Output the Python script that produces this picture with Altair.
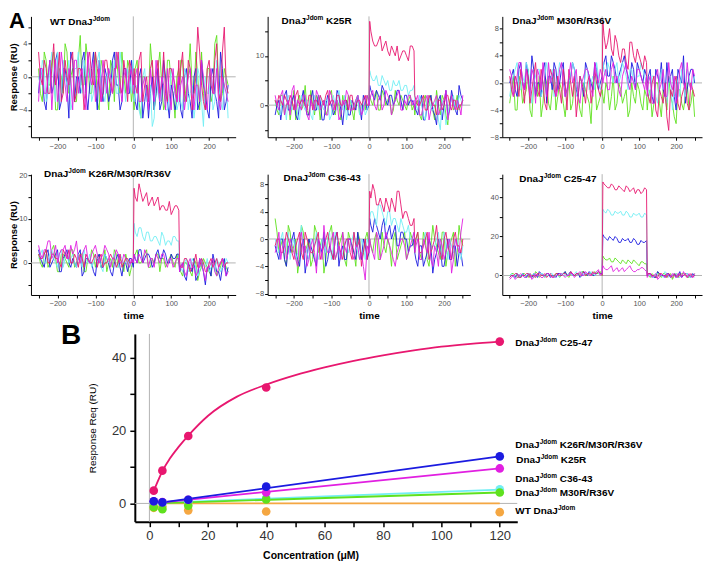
import altair as alt
import pandas as pd

# ---------------- time grids of the sensorgrams (s) ----------------
TIME = [-250, -240, -230, -220, -210, -200, -190, -180, -170, -160, -150, -140, -130,
        -120, -110, -100, -90, -80, -70, -60, -50, -40, -30, -20, -10, 0,
        2, 10, 20, 30, 40, 50, 60, 70, 80, 90, 100, 110, 120,
        122, 130, 140, 150, 160, 170, 180, 190, 200, 210, 220, 230, 240, 250]
TIME_MID = [-245, -235, -225, -215, -205, -195, -185, -175, -165, -155, -145, -135, -125,
            -115, -105, -95, -85, -75, -65, -55, -45, -35, -25, -15, -5,
            5, 15, 25, 35, 45, 55, 65, 75, 85, 95, 105, 115,
            125, 135, 145, 155, 165, 175, 185, 195, 205, 215, 225, 235, 245]

# ---------------- panel 1: WT DnaJ Jdom ----------------
wt_green = [1, -3, 2, -1, 3, -4, 0, 4, -2, 1, -3, 5, -1, 2, -2, 3, -4, 1, -1, 2, -3, 0, 3, -2, 1, -1] + \
           [-4, 2, -5, 0, -3, 1, -2, 3, -4, 2, -1, -5, 1] + [-3, 2, -1, 4, -2, 0, 3, -4, 1, -2, 5, -3, 1, -1]
wt_green_m = [-2, 3, -1, 2, -4, 1, -2, 3, 0, -3, 2, -1, 4, -2, 1, -3, 2, 0, -4, 1, 3, -2, 0, 2, -3] + \
             [1, -3, 0, -2, 4, -4, 1, -1, -3, 2, -2, 0] + [2, -3, 0, -1, 3, -4, -2, 1, -3, 4, -1, -2, 0]
wt_blue = [-2, 0, -4, 2, -1, 3, -3, 1, -5, 2, 0, -2, 3, -4, 1, -1, 2, -3, 0, -2, 3, -1, -3, 1, -2, 0] + \
          [-1, -4, 1, -3, -5, 0, -2, -4, 2, -3, -1, -4, 0] + [-2, -5, 1, -3, 0, -4, 2, -2, -5, 1, -3, 3, -4, -1]
wt_blue_m = [1, -3, 0, -2, 2, -4, 1, -1, 3, -3, 0, 2, -2, -1, 3, -4, 0, 1, -3, 2, -1, -4, 1, -2, 2] + \
            [-3, 0, -5, -1, -2, -4, 1, -3, 0, -5, -2, -3] + [-4, 0, -2, -5, 1, -3, -1, -4, 0, -2, -5, 1, -3]
wt_cyan = [0, 2, -3, 1, -1, 3, -2, 0, 2, -3, 1, -1, 2, 0, -3, 1, 3, -2, 0, -1, 2, -2, 1, -3, 0, 2] + \
          [-3, -1, -5, 1, -2, -6, 0, -3, -1, -4, 1, -2, -3] + [-1, -4, 0, -2, -5, 1, -3, 0, -2, -4, 2, -3, -1, -5]
wt_cyan_m = [-1, 1, -2, 3, -3, 0, 2, -1, -4, 1, 3, -2, 0, 1, -2, 2, -1, -3, 1, 0, -2, 3, -1, 1, -2] + \
            [-2, -4, 0, -3, -1, -5, -2, 0, -4, -2, -1, -4] + [-3, 1, -4, -1, -3, 0, -6, -2, 1, -3, -1, -4, 0]
wt_crimson = [3, -1, 1, -2, 4, 0, -3, 2, -1, 3, -2, 1, -4, 2, 0, 3, -1, -2, 2, -1, 1, 3, -2, 0, 2, -1] + \
             [1, -2, 3, -1, -3, 2, 0, -2, 3, -3, 1, -1, 2] + [-1, 3, -3, 1, -2, 6, -1, -4, 2, -2, 4, -3, 6, -2]
wt_crimson_m = [0, 2, -2, 1, -1, 3, -2, 0, 2, -3, 1, 0, -2, 3, -1, 1, -3, 2, 0, -2, 1, -1, 2, -3, 1] + \
               [-1, 2, -3, 0, 1, -2, 2, -1, -2, 1, 0, -3] + [1, -2, 2, -4, 0, 3, -3, 1, -1, 2, -2, 3, -1]
wt_magenta = [-3, 1, -2, 2, 0, -3, 3, -1, 1, -4, 2, 0, -2, 3, -1, -3, 1, 2, -2, 0, -1, 2, -3, 1, 0, -2] + \
             [-2, 1, -3, 0, -4, -1, 2, -3, -1, 1, -4, -2, 0] + [-3, 0, -2, 1, -4, -1, 2, -3, 0, -2, 1, -4, -1, -3]
wt_magenta_m = [1, -2, 0, -4, 2, -1, 1, -3, 0, 2, -2, 1, -4, 0, 2, -1, -3, 0, 1, -2, 3, -1, 0, -2, 1] + \
               [0, -3, -1, -2, 1, -3, -1, 0, -4, -2, 1, -3] + [-1, -4, 0, -2, -1, -3, 0, -4, 1, -2, -3, 0, -2]

# ---------------- panel 2: K25R ----------------
k25_green = [1, -2, 2, 0, -3, 3, 1, -1, 4, -2, 0, 2, -3, 1, -1, 3, -2, 0, 2, -1, 1, -3, 2, 0, -1, 1] + \
            [2, 0, 3, -1, 2, 1, -2, 3, 0, 1, -1, 2, 0] + [-2, 1, -3, 2, 0, -1, 3, -2, 1, -4, 2, 0, -1, 1]
k25_green_m = [-1, 2, -2, 1, 0, -3, 2, 0, -1, 3, -2, 1, 0, -2, 2, -1, 1, -3, 0, 2, -1, 1, -2, 0, 2] + \
              [1, 2, -1, 3, 0, 2, -1, 1, 2, 0, 1, -1] + [0, -2, 1, -1, 2, -3, 0, 2, -2, 1, -1, 2, 0]
k25_blue = [-2, 1, 0, 3, -1, 2, -3, 1, 0, -2, 3, -1, 1, -3, 2, 0, -1, 2, -4, 1, -2, 0, 2, -3, 1, 0] + \
           [4, 2, 3, 1, 3, 0, 2, 1, 3, -1, 2, 1, 0] + [0, -2, 2, -3, 1, -1, -4, 2, 0, -2, 3, -1, 4, 1]
k25_blue_m = [0, -3, 2, -1, 1, -2, 0, 3, -2, 1, -1, 2, -3, 0, 1, -2, 3, -1, 0, -2, 1, -1, 0, 2, -1] + \
             [3, 1, 2, 4, 1, 2, 0, 3, 1, 2, 0, 1] + [-1, 1, -3, 0, 2, -2, 1, -3, 3, -1, 1, -2, 2]
k25_cyan = [0, -1, 2, -3, 1, 0, -2, 2, -1, 1, -3, 0, 2, -1, 1, -2, 0, 3, -1, -3, 1, -1, 2, 0, -2, 1] + \
           [7, 5, 6, 4, 5, 5, 3, 4, 5, 3, 4, 3, 4] + [1, -1, 0, -3, 2, -1, 1, -5, 0, -2, 1, -1, 2, 0]
k25_cyan_m = [1, -2, 0, 2, -1, 1, -3, 0, 1, -2, 2, -1, 0, 1, -3, 2, -1, 0, 2, -1, 0, 1, -2, 1, -1] + \
             [6, 5, 4, 6, 4, 3, 5, 4, 3, 4, 2, 3] + [0, 2, -2, 1, -1, 0, -3, 1, -4, 0, 2, -1, 1]
k25_crimson = [1, 2, 0, 1, 2, -1, 3, 1, 0, 2, -1, 1, 2, 0, 3, 1, -1, 2, 0, 1, 2, -1, 1, 0, 2, 0] + \
              [17, 13, 12, 14, 12, 11, 12, 10, 9, 11, 10, 12, 11] + [2, 0, 1, -1, 2, 0, -2, 1, 0, 2, -1, 1, 0, 1]
k25_crimson_m = [0, 1, 2, 0, 1, 2, 0, 1, -1, 2, 1, 0, 1, 2, 0, 1, 2, 0, 1, -1, 2, 0, 1, 1, 0] + \
                [15, 12, 13, 11, 13, 10, 11, 12, 10, 11, 9, 12] + [1, 0, 2, -1, 1, 0, 1, -1, 2, 0, 1, -1, 0]
k25_magenta = [2, -1, 3, 0, -2, 4, 1, -1, 2, -3, 0, 3, -1, 1, -2, 2, 0, -3, 1, 3, -1, 0, 2, -2, 1, 0] + \
              [1, 3, -1, 2, 0, 2, -2, 1, 3, -1, 0, 2, 1] + [-1, 2, -2, 1, -3, 0, 2, -1, 1, -3, 2, -1, 0, 2]
k25_magenta_m = [0, 2, -2, 1, 3, -1, 0, 2, -2, 1, -1, 2, 0, -2, 3, -1, 1, -2, 0, 2, -1, 1, 0, -1, 2] + \
                [2, 0, 1, -1, 3, 1, 0, 2, -1, 1, 2, 0] + [1, -2, 0, 2, -1, 1, -2, 0, 3, -1, 0, 1, -2]

# ---------------- panel 3: M30R/R36V ----------------
m30_green = [-3, 1, -4, 0, -2, 2, -5, -1, 1, -3, 0, -4, 2, -2, -1, -5, 1, -3, -1, -4, 0, -2, -6, 1, -3, -1] + \
            [-2, 0, -4, 1, -3, -1, -2, -5, 0, -3, -1, -4, -2] + [-4, -1, -3, 0, -5, -2, 1, -3, -6, -1, -4, 0, -3, -5]
m30_green_m = [-1, -4, 1, -3, -1, -4, 0, -2, -5, 1, -3, -1, -4, 0, -3, -2, -4, 0, -2, -5, -1, -3, 0, -4, -2] + \
              [-3, -1, -2, -4, 0, -3, -1, -4, -2, 0, -3, -1] + [-2, -5, 0, -3, -1, -4, -2, -5, -1, -3, -2, -4, -1]
m30_blue = [0, 2, -2, 3, -1, 1, 4, -2, 0, 2, -3, 1, 3, -1, 2, -2, 0, 3, -1, 1, -2, 2, 0, 3, -1, 1] + \
           [2, 4, 1, 3, 0, 2, 4, 1, 3, -1, 2, 0, 1] + [-1, 2, -3, 1, 3, -2, 0, 2, -4, 1, 4, -1, 2, 0]
m30_blue_m = [1, -1, 2, 0, 3, -1, 2, 0, -2, 3, 1, -1, 2, 0, 3, -1, 1, 2, -2, 0, 3, 1, -1, 2, 0] + \
             [3, 1, 4, 2, 1, 3, 2, 0, 2, 3, 1, 2] + [1, -2, 2, 0, -1, 3, 1, -2, 2, 0, -3, 1, 2]
m30_cyan = [-2, 1, 3, -1, 0, 2, -3, 1, 2, -1, 3, 0, -2, 1, 2, -1, 0, 3, -2, 1, -1, 2, 0, -1, 1, 0] + \
           [3, 1, 2, 0, 3, 1, 2, -1, 2, 0, 1, 2, 0] + [0, -2, 1, -3, 2, -1, 0, -4, 1, -2, 0, 2, -1, 1]
m30_cyan_m = [0, 2, -1, 1, 3, -1, 0, 2, -2, 1, 0, 2, -1, 3, 0, -2, 1, 2, -1, 0, 2, -1, 1, 3, -1] + \
             [2, 3, 1, 2, 0, 3, 1, 2, 0, 1, 3, 1] + [-1, 1, -2, 0, 2, -3, 1, -1, 0, 2, -2, 1, 0]
m30_crimson = [1, -2, 0, 2, -3, 1, -1, 3, -2, 0, -4, 2, -1, 1, -3, 0, 2, -2, -5, 1, -1, 0, -3, 2, -1, 0] + \
              [9, 5, 8, 4, 6, 3, 5, 2, 6, 3, 4, 2, 3] + [-1, -3, 1, -5, -2, 0, -7, -2, 1, -4, -1, -3, 0, -2]
m30_crimson_m = [-1, 1, -2, 0, 2, -3, 1, -1, 2, -3, 0, 1, -2, -1, 2, -4, 0, 1, -2, 0, -3, 1, -1, 0, -2] + \
                [7, 6, 5, 7, 4, 5, 3, 6, 4, 5, 3, 4] + [-2, 0, -4, -1, -3, -5, -1, 0, -3, -2, 0, -4, -1]
m30_magenta = [2, -2, 1, 3, -1, 0, 2, -3, 1, 3, -2, 0, 2, -1, 3, -2, 1, 0, 2, -3, 1, 2, -1, 3, 0, 1] + \
              [0, 2, -1, 3, 1, -2, 2, 0, 1, -1, 2, 0, 1] + [-2, 1, -3, 2, 0, -2, 3, -1, -3, 2, 0, 3, -1, 1]
m30_magenta_m = [1, -1, 3, 0, 2, -2, 1, 2, -1, 0, 3, 1, -2, 2, 0, -1, 3, 1, -2, 0, 2, 1, -2, 1, 2] + \
                [1, -1, 2, 0, -1, 1, 3, -1, 0, 2, 1, -1] + [0, -3, 1, -1, 2, -2, 0, 1, -2, 3, -1, 0, 2]

# ---------------- panel 4: K26R/M30R/R36V ----------------
k26_green = [2, -1, 3, 0, 4, -2, 2, 1, -1, 3, 0, 2, -2, 1, 3, -1, 2, 0, -2, 1, 3, -1, 0, 2, -3, 1] + \
            [1, 3, 0, 2, -1, 1, 2, -2, 1, 0, 2, -1, 0] + [-1, -3, 0, -2, 1, -4, -1, 0, -2, 1, -3, -1, 0, -2]
k26_green_m = [0, 2, -1, 3, 1, -2, 2, 0, 3, -1, 1, 2, -2, 0, 2, 1, -1, 3, 0, -1, 2, 1, -2, 0, -1] + \
              [2, 0, 1, 3, -1, 0, 2, 1, -1, 1, 0, 2] + [-2, 0, -1, -3, 0, -2, 1, -1, -3, 0, -2, 1, -1]
k26_blue = [3, 0, 2, -1, 1, 3, -2, 2, 0, 1, -1, 3, -2, 1, 0, -3, 2, -1, 1, -2, 0, 2, -3, 0, 1, -1] + \
           [2, 0, 3, 1, 2, -1, 2, 1, 3, 0, 2, 1, 2] + [-2, 0, -4, -1, 1, -3, 0, -5, -1, 2, -2, -4, 1, -1]
k26_blue_m = [1, -1, 3, 0, 2, -2, 1, 3, -1, 0, 2, -3, 1, 0, -2, 1, -1, 2, 0, -3, 1, -1, 0, -2, 1] + \
             [1, 3, 0, 2, 1, 0, 3, 1, 2, 0, 1, 2] + [-1, -3, 0, -2, -4, 1, -2, -1, -3, 0, -2, -1, -3]
k26_cyan = [1, 3, 0, 2, 1, -1, 3, 1, 0, 2, -1, 1, 3, 0, -1, 2, 1, -2, 1, 0, 2, -1, 1, 0, -1, 1] + \
           [9, 6, 8, 5, 7, 5, 6, 4, 6, 5, 4, 6, 5] + [0, -2, 1, -1, 0, -3, 1, -1, -2, 0, 1, -2, -1, 0]
k26_cyan_m = [2, 0, 1, 3, 0, 2, -1, 2, 1, 0, 2, -1, 1, 2, 0, 1, -1, 2, 0, 1, -1, 2, 0, 1, 0] + \
             [7, 8, 6, 7, 5, 6, 5, 7, 4, 5, 6, 5] + [-1, 0, -2, 1, -1, -2, 0, 1, -1, -2, 0, -1, 1]
k26_crimson = [2, 1, 3, 0, 2, 1, -1, 2, 3, 0, 1, 2, -1, 1, 0, 2, 1, -1, 0, 2, 1, 0, -1, 1, 0, 1] + \
              [17, 14, 16, 15, 13, 15, 14, 12, 13, 12, 11, 13, 12] + [0, -1, 1, -2, 0, -1, 1, -2, 0, -1, 1, 0, -1, 0]
k26_crimson_m = [1, 2, 0, 2, 1, 0, 3, 1, 0, 2, -1, 1, 2, 0, 1, -1, 2, 0, 1, 1, -1, 2, 0, 1, 0] + \
                [15, 18, 14, 16, 14, 13, 15, 13, 12, 14, 12, 13] + [-1, 1, 0, -1, 2, -1, 0, -2, 1, 0, -1, 1, 0]
k26_magenta = [4, 1, 3, 5, 2, 0, 3, 4, 1, 2, 5, 0, 3, 1, 2, 4, 0, 2, 3, -1, 1, 2, 0, 1, -1, 0] + \
              [2, 0, 1, 3, -1, 1, 2, 0, 2, -1, 1, 0, 1] + [-2, 0, -3, 1, -1, -2, 0, -4, -1, 1, -3, 0, -1, -2]
k26_magenta_m = [2, 3, 5, 1, 4, 2, 3, 1, 4, 3, 1, 2, 4, 0, 3, 2, 1, 4, 2, 1, 3, 0, 2, 0, 1] + \
                [1, 2, 0, 2, 1, -1, 1, 2, 0, 1, -1, 1] + [-1, -2, 0, -1, -3, 1, -2, -1, 0, -2, -1, 1, -3]

# ---------------- panel 5: C36-43 ----------------
c36_green = [3, -2, 0, -4, 1, -1, -5, 2, -2, 0, -3, 1, -1, -5, 0, 2, -3, -1, 1, -4, 0, -2, 1, -3, 0, -1] + \
            [0, -2, 1, -3, -1, 0, -4, 1, -2, 0, -3, 1, -1] + [-2, 1, -3, 0, -4, 2, -1, -3, 1, -2, 0, -4, 2, -1]
c36_green_m = [1, -1, -3, 2, -2, 0, -3, 1, -1, -4, 2, -2, 0, -3, 1, -1, -2, 0, -3, 1, -1, -4, 0, -2, 1] + \
              [-1, 0, -3, 1, -2, -1, 0, -3, -1, 1, -2, 0] + [0, -2, 1, -3, -1, 0, -2, 1, -4, -1, 1, -2, 0]
c36_blue = [-1, -3, 0, -4, -2, 1, -3, -1, -5, 0, -2, -4, -1, 1, -3, -2, 0, -4, -1, -3, 0, -2, 1, -3, -1, -2] + \
           [3, 1, 2, 0, 3, 1, 0, 2, -1, 1, 0, -1, 0] + [-2, -4, -1, -3, 0, -5, -2, -1, -4, 0, -3, -1, -2, -4]
c36_blue_m = [-2, 0, -3, -1, 0, -2, -4, 0, -3, -1, -3, 0, -2, -4, -1, -3, 1, -2, -3, 0, -1, -3, -1, 0, -3] + \
             [2, 3, 1, 2, 0, 2, 1, -1, 1, 0, -2, -1] + [-3, -1, -4, -2, -1, -3, 0, -4, -2, -3, -1, -4, -2]
c36_cyan = [0, -2, 1, -1, -3, 0, -2, 2, -1, -3, 0, 1, -2, -1, 0, -3, 1, -1, -2, 0, -1, 1, -2, 0, -3, -1] + \
           [3, 4, 2, 5, 3, 4, 2, 3, 1, 2, 1, 0, 1] + [-1, 0, -2, 1, -3, -1, 0, -2, 1, -3, -1, 0, -2, -1]
c36_cyan_m = [-1, 0, -2, 1, -1, -3, 0, -1, -2, 0, -1, -3, 0, -2, 1, -1, 0, -3, -1, -2, 0, -1, -3, -1, 0] + \
             [4, 3, 5, 4, 2, 4, 3, 2, 3, 1, 2, 0] + [0, -2, -1, 0, -2, -1, 1, -3, -1, 0, -2, 0, -3]
c36_crimson = [-1, 0, -2, 1, -1, -3, 0, -2, 1, -1, -2, 0, -3, -1, 1, -2, 0, -1, -3, 0, -2, 1, -1, -4, 0, -1] + \
              [7, 8, 5, 6, 4, 5, 6, 4, 7, 3, 4, 2, 3] + [-1, 1, -2, 0, -3, -1, 2, -2, 0, -1, -3, 1, -1, 0]
c36_crimson_m = [0, -2, -1, 0, -2, -1, 1, -3, 0, -2, -1, 1, -2, 0, -1, -3, 1, -2, -1, 0, -3, -1, 0, -2, -3] + \
                [6, 7, 5, 5, 6, 4, 5, 7, 5, 4, 3, 2] + [0, -2, -1, 1, -2, 0, -1, -3, 1, -2, 0, -1, -2]
c36_magenta = [-2, 1, -1, -3, 0, -2, -4, 1, -1, -3, 0, -5, -1, 2, -2, 0, -3, -1, 1, -2, 0, -3, -1, -2, -6, -2] + \
              [0, -2, 1, -3, -1, 0, -2, -4, -1, 0, -3, -1, 1] + [-2, 0, -3, -1, 1, -4, -2, 0, -3, -1, -5, 0, -2, 3]
c36_magenta_m = [-1, -3, 0, -2, -1, -3, 0, -2, -4, -1, -2, 0, -3, -1, -2, 1, -2, -3, -1, 0, -2, -1, -3, -4, -1] + \
                [-1, -3, 0, -2, 1, -1, -3, -2, 0, -1, -2, 0] + [-1, -3, 0, -2, -3, -1, -4, -1, -2, 0, -3, -1, 1]

# ---------------- panel 6: C25-47 ----------------
c25_green = [0, 1, -1, 0, 1, -1, 0, 2, -1, 0, 1, 0, -1, 1, 0, 2, -1, 1, 0, 1, 2, 0, 1, 2, 1, 0] + \
            [10, 8, 9, 7, 8, 6, 7, 8, 6, 7, 5, 7, 6] + [1, -1, 0, 2, -1, 1, 0, -2, 1, 0, 1, -1, 0, 1]
c25_green_m = [1, 0, -1, 1, 0, 1, -1, 1, 0, -1, 1, 0, 1, -1, 1, 0, 1, 0, 1, 2, 0, 1, 0, 1, 2] + \
              [9, 8, 7, 9, 7, 8, 6, 7, 8, 6, 7, 6] + [0, 1, -1, 0, 1, -1, 1, 0, -1, 1, 0, -1, 0]
c25_blue = [-1, 0, 1, -1, 0, 1, -1, 0, 2, 0, 1, -1, 0, 1, 0, 2, 1, 0, 1, -1, 2, 0, 1, 0, 2, 1] + \
           [21, 19, 20, 18, 19, 17, 18, 19, 17, 18, 16, 17, 18] + [0, 1, -1, 2, 0, -1, 1, 0, -1, 2, 0, 1, -1, 0]
c25_blue_m = [0, -1, 0, 1, -1, 0, 1, -1, 1, 0, 1, 0, -1, 1, 1, 0, 2, 0, 1, 0, 1, 2, 0, 1, 1] + \
             [20, 18, 19, 20, 17, 19, 18, 17, 19, 16, 18, 17] + [1, 0, -1, 1, 0, 1, -1, 1, 0, -1, 1, 0, 1]
c25_cyan = [0, -1, 1, 0, -1, 1, 0, -1, 0, 1, 0, 1, -1, 0, 1, 0, 1, 0, 2, 1, 0, 1, 2, 0, 1, 1] + \
           [34, 32, 33, 31, 32, 33, 31, 32, 30, 31, 32, 30, 31] + [1, 0, -1, 1, 0, 2, -1, 0, 1, -1, 0, 1, 0, -1]
c25_cyan_m = [1, 0, -1, 1, 0, -1, 1, 0, 1, -1, 0, 1, 0, -1, 1, 0, 1, 1, 0, 2, 1, 0, 1, 2, 0] + \
             [33, 34, 31, 33, 32, 31, 33, 30, 32, 31, 30, 32] + [0, -1, 1, 0, -1, 1, 0, 1, -1, 0, 1, -1, 0]
c25_crimson = [-1, 0, 1, -1, 0, 1, 0, -1, 1, 0, -1, 1, 0, 1, 0, 1, 0, 1, 1, 0, 2, 1, 0, 1, 2, 0] + \
              [48, 46, 45, 46, 44, 45, 43, 45, 44, 42, 44, 43, 44] + [0, 1, 0, -1, 1, 0, 1, -1, 0, 1, 0, -1, 1, 0]
c25_crimson_m = [0, 1, -1, 0, 1, -1, 0, 1, 0, 1, 0, -1, 1, 0, 1, 0, 2, 0, 1, 1, 0, 1, 2, 1, 1] + \
                [47, 45, 47, 44, 46, 44, 46, 43, 45, 44, 42, 45] + [1, 0, -1, 1, 0, -1, 0, 1, -1, 0, 1, 0, -1]
c25_magenta = [-2, 0, -1, 1, -1, 0, -2, 1, 0, -1, 1, 0, -1, 0, 1, -1, 0, 1, 0, 2, 0, 1, 0, 1, 3, 1] + \
              [5, 3, 4, 2, 4, 3, 2, 4, 3, 2, 3, 4, 2] + [-1, 1, 0, -2, 1, -1, 0, 1, -1, 0, 2, -1, 0, 1]
c25_magenta_m = [-1, -2, 0, 0, -1, 1, -1, 0, -1, 0, 1, -1, 0, 1, 0, 0, 1, -1, 1, 0, 2, 0, 1, 2, 0] + \
                [4, 3, 5, 3, 2, 4, 3, 5, 2, 3, 4, 3] + [0, -1, 1, -1, 0, 1, -1, 0, 1, -1, 0, 1, -1]

# ---------------- panel B: equilibrium responses ----------------
CONC = [1.48, 4.44, 13.3, 40, 120]
req_c2547 = [3.5, 9.0, 18.5, 31.8, 44.4]
req_k26 = [0.6, 0.3, 1.0, 4.6, 12.9]
req_k25 = [0.6, 0.4, 1.0, 3.0, 9.6]
req_c3643 = [0.3, 0.1, 0.5, 1.5, 3.9]
req_m30 = [-1.0, -1.6, -0.6, 1.1, 3.0]
req_wt = [-1.2, -0.9, -1.9, -2.2, -2.4]

fit_c2547_c = [1.5, 3, 4.4, 7, 10, 13.3, 20, 30, 40, 50, 60, 70, 80, 90, 100, 110, 120]
fit_c2547_r = [3.5, 6.3, 8.8, 12.3, 15.5, 18.6, 24.0, 29.3, 32.6, 35.2, 37.3, 39.1, 40.6, 41.9, 43.0, 43.8, 44.4]
fit_k26_c = [4.4, 120]
fit_k26_r = [0.3, 12.9]
fit_k25_c = [4.4, 120]
fit_k25_r = [0.3, 9.6]
fit_c3643_c = [1.5, 120]
fit_c3643_r = [0.1, 3.8]
fit_m30_c = [1.5, 120]
fit_m30_r = [0.0, 3.0]
fit_wt_c = [1.5, 120]
fit_wt_r = [0.0, 0.0]

# ---------------- styling ----------------
GREEN = "#5fe11e"
BLUE = "#1b1be0"
CYAN = "#72eef4"
CRIMSON = "#e8176f"
MAGENTA = "#e11fe1"
ORANGE = "#f5a742"
ZERO = "#b4b4b4"
FONT = "Liberation Sans"

# Arial-bold advance widths (per 1000 em), used to butt the superscripts
CW = {" ": 278, "-": 333, "/": 278, "C": 722, "D": 722, "J": 556, "K": 722, "M": 833,
      "R": 722, "T": 611, "V": 667, "W": 944, "a": 556, "d": 611, "m": 889, "n": 611, "o": 611}
for _d in "0123456789":
    CW[_d] = 556


def tw(s, size):
    return sum(CW.get(ch, 556) for ch in s) / 1000.0 * size


one = pd.DataFrame({"a": [0]})


def txt(s, x, y, size, weight="bold", color="black", opacity=1):
    return alt.Chart(one).mark_text(text=s, align="left", baseline="alphabetic", font=FONT,
                                    fontSize=size, fontWeight=weight, color=color,
                                    opacity=opacity).encode(x=alt.value(x), y=alt.value(y))


def name_layers(x0, y0, before, after, size=10, sup=6.5):
    w1 = tw(before, size)
    out = [txt(before, x0, y0, size), txt("Jdom", x0 + w1, y0 - 4, sup)]
    if after:
        x2 = x0 + w1 + tw("Jdom", sup) + tw(" ", size)
        out.append(txt(after.strip(), x2, y0, size))
    return out


def trace_frame(vals, mids):
    t = [a for a, _ in zip(TIME, vals)] + [a for a, _ in zip(TIME_MID, mids)]
    v = [b for _, b in zip(TIME, vals)] + [b for _, b in zip(TIME_MID, mids)]
    return pd.DataFrame({"t": t, "v": v}).sort_values("t")


def panel(traces, ydom, yticks, ystep, width, ytitle, xtitle, name, extra=()):
    xs = alt.Scale(domain=[-270, 270], nice=False, zero=False)
    ys = alt.Scale(domain=ydom, nice=False, zero=False)
    xaxis = alt.Axis(values=list(range(-250, 251, 50)),
                     labelExpr="datum.value % 100 === 0 ? datum.label : ''",
                     tickSize=3, labelFontSize=7.5, labelPadding=2, labelColor="#555", labelFont=FONT,
                     domainColor="black", tickColor="black", grid=False, labelOverlap=False,
                     labelFlush=False, title=xtitle, titleFont=FONT, titleFontSize=10,
                     titleFontWeight="bold", titlePadding=3, titleColor="black")
    yaxis = alt.Axis(values=yticks,
                     labelExpr="datum.value %% %d === 0 ? datum.label : ''" % ystep,
                     tickSize=3, labelFontSize=7.5, labelPadding=1, labelColor="#555", labelFont=FONT,
                     domainColor="black", tickColor="black", grid=False, labelOverlap=False,
                     labelFlush=False, title=ytitle, titleFont=FONT, titleFontSize=9.5,
                     titleFontWeight="bold", titlePadding=0, titleColor="black")
    X = alt.X("t:Q", scale=xs, axis=xaxis)
    Y = alt.Y("v:Q", scale=ys, axis=yaxis)
    layers = [
        alt.Chart(pd.DataFrame({"v": [0]})).mark_rule(color=ZERO, strokeWidth=1).encode(y=Y),
        alt.Chart(pd.DataFrame({"t": [0]})).mark_rule(color=ZERO, strokeWidth=1).encode(x=X),
    ]
    for vals, mids, col in traces:
        layers.append(alt.Chart(trace_frame(vals, mids)).mark_line(
            color=col, strokeWidth=0.9, clip=True).encode(x=X, y=Y))
    layers += name_layers(*name)
    layers += list(extra)
    return alt.layer(*layers).properties(width=width, height=121)


W1, W2, W3 = 205, 203, 200
p1 = panel([(wt_green, wt_green_m, GREEN), (wt_blue, wt_blue_m, BLUE), (wt_cyan, wt_cyan_m, CYAN),
            (wt_crimson, wt_crimson_m, CRIMSON), (wt_magenta, wt_magenta_m, MAGENTA)],
           [-7.3, 7.3], [-6, -4, -2, 0, 2, 4, 6], 4, W1, "Response (RU)", None,
           (19, 9, "WT DnaJ", ""), extra=[txt("A", -22, 12, 22)])
p2 = panel([(k25_green, k25_green_m, GREEN), (k25_blue, k25_blue_m, BLUE), (k25_cyan, k25_cyan_m, CYAN),
            (k25_crimson, k25_crimson_m, CRIMSON), (k25_magenta, k25_magenta_m, MAGENTA)],
           [-6.5, 18], [-5, 0, 5, 10, 15], 10, W2, None, None, (14, 8, "DnaJ", " K25R"))
p3 = panel([(m30_green, m30_green_m, GREEN), (m30_blue, m30_blue_m, BLUE), (m30_cyan, m30_cyan_m, CYAN),
            (m30_crimson, m30_crimson_m, CRIMSON), (m30_magenta, m30_magenta_m, MAGENTA)],
           [-8, 9.8], [-8, -6, -4, -2, 0, 2, 4, 6, 8], 4, W3, None, None, (10, 8, "DnaJ", " M30R/R36V"))
p4 = panel([(k26_green, k26_green_m, GREEN), (k26_blue, k26_blue_m, BLUE), (k26_cyan, k26_cyan_m, CYAN),
            (k26_crimson, k26_crimson_m, CRIMSON), (k26_magenta, k26_magenta_m, MAGENTA)],
           [-7.3, 20.2], [-5, 0, 5, 10, 15, 20], 10, W1, "Response (RU)", "time",
           (13, 3, "DnaJ", " K26R/M30R/R36V"))
p5 = panel([(c36_green, c36_green_m, GREEN), (c36_blue, c36_blue_m, BLUE), (c36_cyan, c36_cyan_m, CYAN),
            (c36_crimson, c36_crimson_m, CRIMSON), (c36_magenta, c36_magenta_m, MAGENTA)],
           [-8.2, 9.5], [-8, -6, -4, -2, 0, 2, 4, 6, 8], 4, W2, None, "time", (16, 7, "DnaJ", " C36-43"))
p6 = panel([(c25_green, c25_green_m, GREEN), (c25_blue, c25_blue_m, BLUE), (c25_cyan, c25_cyan_m, CYAN),
            (c25_crimson, c25_crimson_m, CRIMSON), (c25_magenta, c25_magenta_m, MAGENTA)],
           [-10, 52], [0, 10, 20, 30, 40, 50], 20, W3, None, "time", (17, 8, "DnaJ", " C25-47"))

# ---------------- panel B ----------------
bxs = alt.Scale(domain=[-5, 126], nice=False, zero=False)
bys = alt.Scale(domain=[-5, 46.5], nice=False, zero=False)
bxaxis = alt.Axis(values=list(range(0, 121, 10)), labelExpr="datum.value % 20 === 0 ? datum.label : ''",
                  tickSize=5, tickWidth=1.5, domainWidth=2, domainColor="black", tickColor="black",
                  labelFontSize=13, labelColor="#333", labelFont=FONT, labelPadding=3, grid=False,
                  labelOverlap=False, labelFlush=False,
                  title="Concentration (μM)", titleFont=FONT, titleFontSize=10.5, titleFontWeight="bold",
                  titlePadding=8, titleX=176, titleColor="black")
byaxis = alt.Axis(values=[0, 10, 20, 30, 40], labelExpr="datum.value % 20 === 0 ? datum.label : ''",
                  tickSize=5, tickWidth=1.5, domainWidth=2, domainColor="black", tickColor="black",
                  labelFontSize=13, labelColor="#333", labelFont=FONT, labelPadding=4, grid=False,
                  labelOverlap=False, labelFlush=False,
                  title="Response Req (RU)", titleFont=FONT, titleFontSize=10, titleFontWeight="normal",
                  titlePadding=14, titleColor="black")
BX = alt.X("c:Q", scale=bxs, axis=bxaxis)
BY = alt.Y("r:Q", scale=bys, axis=byaxis)

b_layers = [
    alt.Chart(pd.DataFrame({"c": [0]})).mark_rule(color=ZERO, strokeWidth=1).encode(x=BX),
    alt.Chart(pd.DataFrame({"r": [0]})).mark_rule(color=ZERO, strokeWidth=1).encode(y=BY),
]
for cc, rr, col in [(fit_wt_c, fit_wt_r, ORANGE), (fit_c3643_c, fit_c3643_r, CYAN),
                    (fit_m30_c, fit_m30_r, GREEN), (fit_k25_c, fit_k25_r, MAGENTA),
                    (fit_k26_c, fit_k26_r, BLUE), (fit_c2547_c, fit_c2547_r, CRIMSON)]:
    b_layers.append(alt.Chart(pd.DataFrame({"c": cc, "r": rr})).mark_line(
        color=col, strokeWidth=1.8, interpolate="monotone").encode(x=BX, y=BY))
for rr, col in [(req_wt, ORANGE), (req_c3643, CYAN), (req_m30, GREEN), (req_k25, MAGENTA),
                (req_k26, BLUE), (req_c2547, CRIMSON)]:
    b_layers.append(alt.Chart(pd.DataFrame({"c": CONC, "r": rr})).mark_circle(
        color=col, size=75, opacity=1).encode(x=BX, y=BY))

b_layers += name_layers(381, 12, "DnaJ", " C25-47")
b_layers += name_layers(381, 114, "DnaJ", " K26R/M30R/R36V")
b_layers += name_layers(382, 129, "DnaJ", " K25R")
b_layers += name_layers(381, 148, "DnaJ", " C36-43")
b_layers += name_layers(381, 162, "DnaJ", " M30R/R36V")
b_layers += name_layers(381, 180, "WT DnaJ", "")
b_layers.append(txt("B", -74, 10, 28))

pB = alt.layer(*b_layers).properties(width=383, height=188)

# an empty, invisible cell that pushes panel B to the right
spacer = alt.layer(txt(".", 0, 100, 6, opacity=0)).properties(width=1, height=188)

row1 = alt.hconcat(p1, p2, p3, spacing=32, bounds="flush")
row2 = alt.hconcat(p4, p5, p6, spacing=32, bounds="flush")
rowB = alt.hconcat(spacer, pB, spacing=103, bounds="flush")

top = alt.vconcat(row1, row2, spacing=18)
chart = alt.vconcat(top, rowB, spacing=1).properties(
    padding={"left": 0, "top": 2, "right": 0, "bottom": 0}
).configure_view(stroke=None, strokeWidth=0)

chart.save("out.html", embed_options={"renderer": "svg", "actions": False})
